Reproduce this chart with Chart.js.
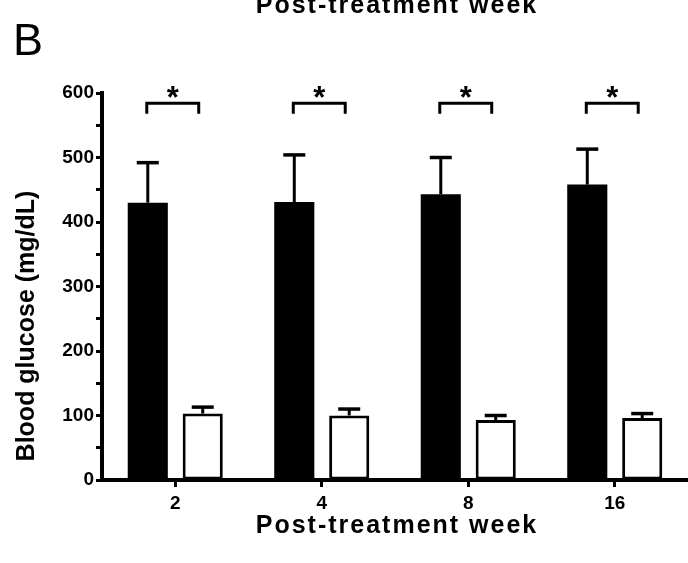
<!DOCTYPE html>
<html>
<head>
<meta charset="utf-8">
<script src="https://cdn.jsdelivr.net/npm/chart.js@4.4.1/dist/chart.umd.min.js"></script>
<style>
    body { margin: 0; background: #fff; }
    canvas { display: block; }
</style>
</head>
<body>
<canvas id="myChartB" width="688" height="563"></canvas>
<script>

const semanas = ['2', '4', '8', '16']
const glicoseDiabetico = [430, 431, 443, 458]
const erroDiabetico = [62, 73, 57, 55]
const glicoseTratado = [103, 100, 93, 96]
const erroTratado = [10, 10, 7, 7]
const ticksY = [0, 100, 200, 300, 400, 500, 600]

const fonte = '"Liberation Sans", Arial, sans-serif'

// barras de erro, colchetes de significancia e textos
const extras = {
    id: 'extras',
    afterDatasetsDraw(chart) {
        const ctx = chart.ctx
        const y = chart.scales.y
        const erros = [erroDiabetico, erroTratado]
        ctx.save()
        ctx.strokeStyle = '#000'
        ctx.lineWidth = 3
        chart.data.datasets.forEach(function (ds, d) {
            const meta = chart.getDatasetMeta(d)
            meta.data.forEach(function (bar, i) {
                const topo = y.getPixelForValue(ds.data[i] + erros[d][i])
                ctx.beginPath()
                ctx.moveTo(bar.x, bar.y)
                ctx.lineTo(bar.x, topo)
                ctx.stroke()
                ctx.lineWidth = 3.5
                ctx.beginPath()
                ctx.moveTo(bar.x - 11, topo)
                ctx.lineTo(bar.x + 11, topo)
                ctx.stroke()
                ctx.lineWidth = 3
            })
        })

        const m0 = chart.getDatasetMeta(0)
        const m1 = chart.getDatasetMeta(1)
        for (var i = 0; i < semanas.length; i++) {
            const x1 = m0.data[i].x - 1
            const x2 = m1.data[i].x - 4
            const yb = y.getPixelForValue(584)
            const yp = y.getPixelForValue(568)
            ctx.beginPath()
            ctx.moveTo(x1, yp)
            ctx.lineTo(x1, yb)
            ctx.lineTo(x2, yb)
            ctx.lineTo(x2, yp)
            ctx.stroke()
            ctx.fillStyle = '#000'
            ctx.font = 'bold 31px ' + fonte
            ctx.textAlign = 'center'
            ctx.textBaseline = 'alphabetic'
            ctx.fillText('*', (x1 + x2) / 2, 108)
        }
        ctx.restore()
    },
    afterDraw(chart) {
        const ctx = chart.ctx
        ctx.save()
        ctx.fillStyle = '#000'
        ctx.textAlign = 'center'
        ctx.textBaseline = 'alphabetic'
        if ('letterSpacing' in ctx) ctx.letterSpacing = '2px'
        ctx.font = 'bold 25px ' + fonte
        ctx.fillText('Post-treatment week', 397, 13)
        ctx.fillText('Post-treatment week', 397, 533)
        ctx.save()
        ctx.translate(34, 326)
        ctx.rotate(-Math.PI / 2)
        if ('letterSpacing' in ctx) ctx.letterSpacing = '0px'
        ctx.font = 'bold 25px ' + fonte
        ctx.fillText('Blood glucose (mg/dL)', 0, 0)
        ctx.restore()
        if ('letterSpacing' in ctx) ctx.letterSpacing = '0px'
        ctx.textAlign = 'left'
        ctx.font = '45px ' + fonte
        ctx.fillText('B', 13, 55)
        ctx.restore()
    }
}

function plotarGrafico() {

    const dados = {
        labels: semanas,
        datasets: [
            {
                label: 'Diabetic',
                backgroundColor: '#000',
                borderColor: '#000',
                borderWidth: 0,
                data: glicoseDiabetico
            },
            {
                label: 'Treated',
                backgroundColor: '#fff',
                borderColor: '#000',
                borderWidth: 3,
                borderSkipped: false,
                data: glicoseTratado
            }
        ]
    }

    const config = {
        type: 'bar',
        data: dados,
        options: {
            responsive: false,
            animation: false,
            categoryPercentage: 0.75,
            barPercentage: 0.73,
            layout: {
                padding: { top: 93, right: -2, bottom: 0, left: 0 }
            },
            plugins: {
                legend: { display: false },
                tooltip: { enabled: false }
            },
            scales: {
                x: {
                    afterFit: function (s) { s.height = 83 },
                    grid: {
                        offset: false,
                        drawOnChartArea: false,
                        tickLength: 7,
                        tickWidth: 3,
                        tickColor: '#000'
                    },
                    border: { display: true, color: '#000', width: 4 },
                    ticks: {
                        color: '#000',
                        padding: 5,
                        font: { family: fonte, size: 19, weight: 'bold' }
                    }
                },
                y: {
                    min: 0,
                    max: 600,
                    afterFit: function (s) { s.width = 102 },
                    grid: {
                        drawOnChartArea: false,
                        tickLength: 6,
                        tickWidth: 3,
                        tickColor: '#000'
                    },
                    border: { display: true, color: '#000', width: 4 },
                    ticks: {
                        stepSize: 50,
                        color: '#000',
                        padding: 2,
                        font: { family: fonte, size: 19, weight: 'bold' },
                        callback: function (v) { return ticksY.includes(v) ? v : '' }
                    }
                }
            }
        },
        plugins: [extras]
    }

    const myChart = new Chart(
        document.getElementById('myChartB'),
        config
    )
}

plotarGrafico()
</script>
</body>
</html>
